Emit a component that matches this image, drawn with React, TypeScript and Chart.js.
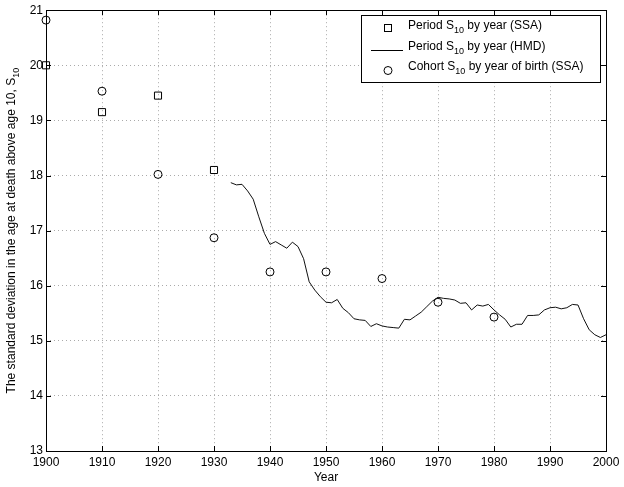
import React, { useEffect, useRef } from "react";
import { Chart, registerables } from "chart.js";

Chart.register(...registerables);

// ---------- data ----------
const periodSsaYears = [1900, 1910, 1920, 1930];
const periodSsaValues = [20.0, 19.15, 19.45, 18.1];

const cohortSsaYears = [1900, 1910, 1920, 1930, 1940, 1950, 1960, 1970, 1980];
const cohortSsaValues = [20.82, 19.53, 18.02, 16.87, 16.25, 16.25, 16.13, 15.7, 15.43];

const hmdYears = [
  1933, 1934, 1935, 1936, 1937, 1938, 1939, 1940, 1941, 1942, 1943, 1944, 1945, 1946, 1947, 1948, 1949,
  1950, 1951, 1952, 1953, 1954, 1955, 1956, 1957, 1958, 1959, 1960, 1961, 1962, 1963, 1964, 1965, 1966,
  1967, 1968, 1969, 1970, 1971, 1972, 1973, 1974, 1975, 1976, 1977, 1978, 1979, 1980, 1981, 1982, 1983,
  1984, 1985, 1986, 1987, 1988, 1989, 1990, 1991, 1992, 1993, 1994, 1995, 1996, 1997, 1998, 1999, 2000,
];
const hmdValues = [
  17.87, 17.83, 17.84, 17.72, 17.57, 17.25, 16.95, 16.75, 16.8, 16.74, 16.68, 16.79, 16.71, 16.49, 16.07,
  15.92, 15.8, 15.7, 15.69, 15.75, 15.59, 15.51, 15.4, 15.38, 15.37, 15.26, 15.31, 15.27, 15.25, 15.24,
  15.23, 15.39, 15.38, 15.45, 15.52, 15.62, 15.72, 15.79, 15.77, 15.76, 15.74, 15.68, 15.69, 15.56, 15.65,
  15.63, 15.66, 15.56, 15.47, 15.39, 15.25, 15.3, 15.3, 15.46, 15.46, 15.47, 15.56, 15.6, 15.61, 15.58,
  15.6, 15.66, 15.65, 15.4, 15.2, 15.11, 15.06, 15.11,
];

const xTicks = [1900, 1910, 1920, 1930, 1940, 1950, 1960, 1970, 1980, 1990, 2000];
const yTicks = [13, 14, 15, 16, 17, 18, 19, 20, 21];

const yTitleParts = [
  { t: "The standard deviation in the age at death above age 10, S" },
  { t: "10", sub: true },
];
const xTitle = "Year";
const legendRows = [
  [{ t: "Period S" }, { t: "10", sub: true }, { t: " by year (SSA)" }],
  [{ t: "Period S" }, { t: "10", sub: true }, { t: " by year (HMD)" }],
  [{ t: "Cohort S" }, { t: "10", sub: true }, { t: " by year of birth (SSA)" }],
];

const FONT = '"Liberation Sans", Arial, Helvetica, sans-serif';

type Part = { t: string; sub?: boolean };

function richWidth(ctx: CanvasRenderingContext2D, parts: Part[]) {
  let w = 0;
  for (const p of parts) {
    ctx.font = (p.sub ? "9px " : "12px ") + FONT;
    w += ctx.measureText(p.t).width;
  }
  return w;
}

function drawRich(ctx: CanvasRenderingContext2D, parts: Part[], x: number, y: number) {
  let cx = x;
  ctx.textBaseline = "alphabetic";
  ctx.textAlign = "left";
  for (const p of parts) {
    ctx.font = (p.sub ? "9px " : "12px ") + FONT;
    ctx.fillText(p.t, cx, p.sub ? y + 4 : y);
    cx += ctx.measureText(p.t).width;
  }
}

const decorPlugin = {
  id: "matlabDecor",
  afterDraw(chart: any) {
    const ctx: CanvasRenderingContext2D = chart.ctx;
    const { left, right, top, bottom } = chart.chartArea;
    const xs = chart.scales.x;
    const ys = chart.scales.y;
    ctx.save();
    ctx.strokeStyle = "#000";
    ctx.fillStyle = "#000";
    ctx.lineWidth = 1;
    ctx.setLineDash([]);
    // box
    ctx.strokeRect(Math.round(left) + 0.5, Math.round(top) + 0.5, Math.round(right - left), Math.round(bottom - top));
    // inward ticks
    const tl = 5;
    ctx.beginPath();
    for (const v of xTicks) {
      const px = Math.round(xs.getPixelForValue(v)) + 0.5;
      ctx.moveTo(px, bottom);
      ctx.lineTo(px, bottom - tl);
      ctx.moveTo(px, top);
      ctx.lineTo(px, top + tl);
    }
    for (const v of yTicks) {
      const py = Math.round(ys.getPixelForValue(v)) + 0.5;
      ctx.moveTo(left, py);
      ctx.lineTo(left + tl, py);
      ctx.moveTo(right, py);
      ctx.lineTo(right - tl, py);
    }
    ctx.stroke();

    // x title
    ctx.font = "12px " + FONT;
    ctx.textAlign = "center";
    ctx.textBaseline = "alphabetic";
    ctx.fillText(xTitle, (left + right) / 2, 481);

    // y title
    ctx.save();
    ctx.translate(15, (top + bottom) / 2);
    ctx.rotate(-Math.PI / 2);
    const w = richWidth(ctx, yTitleParts);
    drawRich(ctx, yTitleParts, -w / 2, 0);
    ctx.restore();

    // legend
    const lx = 361, ly = 15, lw = 239, lh = 67;
    ctx.fillStyle = "#fff";
    ctx.fillRect(lx, ly, lw, lh);
    ctx.strokeStyle = "#000";
    ctx.strokeRect(lx + 0.5, ly + 0.5, lw, lh);
    ctx.fillStyle = "#000";
    const baselines = [29, 49.5, 70];
    // square marker
    ctx.strokeRect(384.5, 24.5, 7, 7);
    // line marker
    ctx.beginPath();
    ctx.moveTo(371, 50.5);
    ctx.lineTo(403, 50.5);
    ctx.stroke();
    // circle marker
    ctx.beginPath();
    ctx.arc(388, 70.5, 4, 0, Math.PI * 2);
    ctx.stroke();
    legendRows.forEach((row, i) => drawRich(ctx, row, 408, baselines[i]));
    ctx.restore();
  },
};

export default function App() {
  const ref = useRef<HTMLCanvasElement | null>(null);
  useEffect(() => {
    if (!ref.current) return;
    const gridColor = "#aaaaaa";
    const chart = new Chart(ref.current, {
      type: "scatter",
      data: {
        datasets: [
          {
            label: "Period S10 by year (SSA)",
            data: periodSsaYears.map((x, i) => ({ x, y: periodSsaValues[i] })),
            pointStyle: "rect",
            pointRadius: 5,
            pointBorderWidth: 1,
            borderColor: "#000",
            backgroundColor: "rgba(0,0,0,0)",
            showLine: false,
            clip: false as any,
          },
          {
            label: "Period S10 by year (HMD)",
            data: hmdYears.map((x, i) => ({ x, y: hmdValues[i] })),
            showLine: true,
            pointRadius: 0,
            borderColor: "#111",
            borderWidth: 1,
            backgroundColor: "rgba(0,0,0,0)",
          },
          {
            label: "Cohort S10 by year of birth (SSA)",
            data: cohortSsaYears.map((x, i) => ({ x, y: cohortSsaValues[i] })),
            pointStyle: "circle",
            pointRadius: 4,
            pointBorderWidth: 1,
            borderColor: "#000",
            backgroundColor: "rgba(0,0,0,0)",
            showLine: false,
            clip: false as any,
          },
        ],
      },
      options: {
        animation: false,
        responsive: false,
        layout: { padding: { left: 0, top: 9, right: 18, bottom: 0 } },
        plugins: { legend: { display: false }, tooltip: { enabled: false } },
        scales: {
          x: {
            type: "linear",
            min: 1900,
            max: 2000,
            afterBuildTicks: (s: any) => {
              s.ticks = xTicks.map((v) => ({ value: v }));
            },
            afterFit: (s: any) => {
              s.height = 36;
            },
            ticks: {
              color: "#000",
              font: { family: FONT, size: 12 },
              padding: 4,
              maxRotation: 0,
              autoSkip: false,
              callback: (v: any) => String(v),
            },
            grid: { color: gridColor, lineWidth: 1, drawTicks: false },
            border: { display: false, dash: [1, 3] },
          },
          y: {
            type: "linear",
            min: 13,
            max: 21,
            afterBuildTicks: (s: any) => {
              s.ticks = yTicks.map((v) => ({ value: v }));
            },
            afterFit: (s: any) => {
              s.width = 46;
            },
            ticks: {
              color: "#000",
              font: { family: FONT, size: 12 },
              padding: 3,
              autoSkip: false,
              callback: (v: any) => String(v),
            },
            grid: { color: gridColor, lineWidth: 1, drawTicks: false },
            border: { display: false, dash: [1, 3] },
          },
        },
      },
      plugins: [decorPlugin],
    });
    return () => chart.destroy();
  }, []);
  return (
    <div style={{ position: "absolute", left: 0, top: 0, width: 624, height: 487, background: "#fff" }}>
      <canvas ref={ref} width={624} height={487} />
    </div>
  );
}
